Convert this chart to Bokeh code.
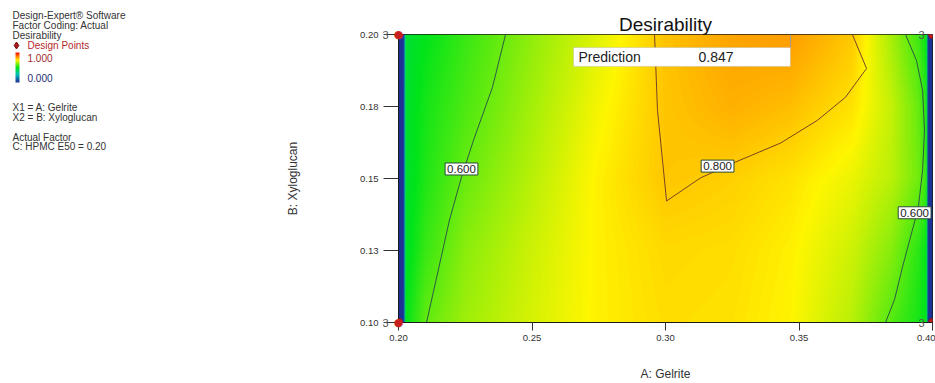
import numpy as np
from bokeh.plotting import figure
from bokeh.layouts import row
from bokeh.models import LinearColorMapper, Label, FixedTicker, BoxAnnotation
from bokeh.embed import file_html
from bokeh.resources import INLINE
from bokeh.core.properties import value

FONT = "Liberation Sans"

# ---- response surface: desirability over A: Gelrite (columns) x B: Xyloglucan (rows)
gelrite = [0.2000, 0.2018, 0.2025, 0.2100, 0.2250, 0.2500, 0.2750, 0.3000,
           0.3250, 0.3468, 0.3700, 0.3850, 0.3950, 0.3980, 0.3985, 0.4000]
xyloglucan = [0.100, 0.125, 0.150, 0.175, 0.200]
d_b0100 = [0, 0, 0.50, 0.595, 0.655, 0.71, 0.755, 0.775, 0.77, 0.75, 0.68, 0.58, 0.52, 0.49, 0, 0]
d_b0125 = [0, 0, 0.48, 0.555, 0.635, 0.70, 0.755, 0.78, 0.775, 0.755, 0.70, 0.63, 0.54, 0.50, 0, 0]
d_b0150 = [0, 0, 0.47, 0.53, 0.603, 0.68, 0.755, 0.801, 0.79, 0.77, 0.73, 0.68, 0.61, 0.55, 0, 0]
d_b0175 = [0, 0, 0.47, 0.52, 0.575, 0.66, 0.74, 0.802, 0.825, 0.81, 0.77, 0.69, 0.60, 0.53, 0, 0]
d_b0200 = [0, 0, 0.46, 0.50, 0.555, 0.64, 0.72, 0.805, 0.84, 0.847, 0.80, 0.66, 0.56, 0.50, 0, 0]

# ---- contour lines (A values, B values)
c600_left_a = [0.2401, 0.2352, 0.2281, 0.2236, 0.2191, 0.2105]
c600_left_b = [0.2000, 0.1817, 0.1633, 0.1505, 0.1356, 0.1000]
c800_a = [0.2959, 0.2970, 0.3004, 0.3131, 0.3262, 0.3431, 0.3569, 0.3674, 0.3753, 0.3700]
c800_b = [0.2000, 0.1737, 0.1422, 0.1502, 0.1557, 0.1623, 0.1702, 0.1782, 0.1882, 0.2000]
c600_right_a = [0.3899, 0.3940, 0.3963, 0.3970, 0.3963, 0.3948, 0.3933, 0.3888, 0.3858, 0.3824]
c600_right_b = [0.2000, 0.1910, 0.1806, 0.1668, 0.1529, 0.1408, 0.1350, 0.1194, 0.1080, 0.1000]
contour_labels_a = [0.2236, 0.3195, 0.3933]
contour_labels_b = [0.1533, 0.1543, 0.1381]
contour_labels_level = [0.600, 0.800, 0.600]

# ---- design points (corners, 3 replicates each)
design_a = [0.20, 0.20, 0.40, 0.40]
design_b = [0.10, 0.20, 0.10, 0.20]
design_reps = [3, 3, 3, 3]

# ---- flagged prediction
pred_a, pred_b, pred_value = 0.3468, 0.200, 0.847

x_ticks = [0.20, 0.25, 0.30, 0.35, 0.40]
x_tick_labels = ["0.20", "0.25", "0.30", "0.35", "0.40"]
y_ticks = [0.100, 0.125, 0.150, 0.175, 0.200]
y_tick_labels = ["0.10", "0.13", "0.15", "0.18", "0.20"]


def make_palette(n=256):
    stops = [(0.00, (30, 50, 150)), (0.25, (0, 190, 190)), (0.50, (0, 228, 25)),
             (0.75, (255, 245, 0)), (1.00, (255, 20, 0))]
    out = []
    for t in np.linspace(0, 1, n):
        for (t0, c0), (t1, c1) in zip(stops[:-1], stops[1:]):
            if t0 <= t <= t1:
                f = (t - t0) / (t1 - t0)
                c = [int(round(a + (b - a) * f)) for a, b in zip(c0, c1)]
                out.append("#%02x%02x%02x" % tuple(c))
                break
    return out


palette = make_palette()
mapper = LinearColorMapper(palette=palette, low=0.0, high=1.0)

# smooth raster of the surface for shading
grid = np.array([d_b0100, d_b0125, d_b0150, d_b0175, d_b0200])
fx = np.linspace(0.2, 0.4, 534)
fy = np.linspace(0.1, 0.2, 289)
rows_fx = np.array([np.interp(fx, gelrite, r) for r in grid])
field = np.array([np.interp(fy, xyloglucan, rows_fx[:, j]) for j in range(len(fx))]).T

SIDE_W = 180

# ---------------- main contour plot ----------------
p = figure(width=935 - SIDE_W, height=383, x_range=(0.2, 0.4), y_range=(0.1, 0.2),
           output_backend="svg", toolbar_location=None,
           min_border_left=398 - SIDE_W, min_border_right=3, min_border_top=34, min_border_bottom=60)
p.frame_align = False
p.background_fill_color = "white"
p.border_fill_color = "white"
p.grid.visible = False
p.outline_line_color = "#1a1a1a"
p.outline_line_width = 1

p.title.text = "Desirability"
p.title.align = "center"
p.title.text_font = FONT
p.title.text_font_size = "19px"
p.title.text_font_style = "normal"
p.title.text_color = "#111111"
p.title.standoff = 0

p.image(image=[field], x=0.2, y=0.1, dw=0.2, dh=0.1, color_mapper=mapper)

p.line(c600_left_a, c600_left_b, line_color="#2c5a44", line_width=1)
p.line(c600_right_a, c600_right_b, line_color="#2c5a44", line_width=1)
p.line(c800_a, c800_b, line_color="#7a4424", line_width=1)

for a, b, lev in zip(contour_labels_a, contour_labels_b, contour_labels_level):
    p.add_layout(Label(x=a, y=b, text=f"{lev:.3f}", text_align="center", text_baseline="middle",
                       text_font=FONT, text_font_size="11.5px", text_color="#222222",
                       background_fill_color="white", border_line_color="#2c4a3a",
                       border_line_width=1, padding=2))

# prediction flag
p.segment(x0=[pred_a], y0=[pred_b - 0.0045], x1=[pred_a], y1=[pred_b], line_color="#9a9a9a", line_width=1)
p.add_layout(BoxAnnotation(left=0.26554, right=pred_a, bottom=0.18893, top=0.1955,
                           fill_color="white", fill_alpha=1.0, line_color="#9a9a9a", line_width=1))
p.add_layout(Label(x=0.26742, y=0.1922, text="Prediction", text_baseline="middle",
                   text_font=FONT, text_font_size="14px", text_color="#222222"))
p.add_layout(Label(x=0.31236, y=0.1922, text=f"{pred_value:.3f}", text_baseline="middle",
                   text_font=FONT, text_font_size="14px", text_color="#222222"))

# design points
p.scatter(design_a, design_b, size=8, marker="circle", fill_color="#c8201e", line_color="#901010")

for ax in (p.xaxis[0], p.yaxis[0]):
    ax.axis_line_color = "#1a1a1a"
    ax.major_tick_line_color = "#333333"
    ax.minor_tick_line_color = None
    ax.major_tick_in = 0
    ax.major_label_text_font = FONT
    ax.major_label_text_font_size = "9.5px"
    ax.major_label_text_color = "#333333"
    ax.axis_label_text_font = FONT
    ax.axis_label_text_font_size = "12px"
    ax.axis_label_text_font_style = "normal"
    ax.axis_label_text_color = "#333333"

p.xaxis.ticker = FixedTicker(ticks=x_ticks)
p.xaxis.major_label_overrides = dict(zip(x_ticks, x_tick_labels))
p.xaxis.axis_label = "A: Gelrite"
p.xaxis.major_tick_out = 8
p.xaxis.major_label_standoff = 4
p.xaxis.axis_label_standoff = 23

p.yaxis.ticker = FixedTicker(ticks=y_ticks)
p.yaxis.major_label_overrides = dict(zip(y_ticks, y_tick_labels))
p.yaxis.axis_label = "B: Xyloglucan"
p.yaxis.major_tick_out = 15
p.yaxis.major_label_standoff = 5
p.yaxis.axis_label_standoff = 57

# replicate counts beside the design points; markers on the A = 0.20 edge are
# repeated in a side panel so they are drawn whole instead of cut at the frame
for a, b, n in zip(design_a, design_b, design_reps):
    if a < 0.3:
        p.add_layout(Label(x=a, y=b, text="\u25cf", text_align="center", text_baseline="middle",
                           text_font="DejaVu Sans", text_font_size="11px",
                           text_color="#c8201e"), "left")
    p.add_layout(Label(x=a, y=b, x_offset=-13 if a < 0.3 else -11, text=str(n),
                       text_align="center", text_baseline="middle",
                       text_font=FONT, text_font_size="11px", text_color="#555555"), "left")

# ---------------- side panel with software notes and legend ----------------
H = 383
side = figure(width=SIDE_W, height=H, x_range=(0, SIDE_W), y_range=(0, H),
              output_backend="svg", toolbar_location=None,
              x_axis_type=None, y_axis_type=None, min_border=0)
side.frame_align = False
side.grid.visible = False
side.outline_line_color = None
side.background_fill_color = "white"
side.border_fill_color = "white"

notes = ["Design-Expert\u00ae Software", "Factor Coding: Actual", "Desirability",
         "X1 = A: Gelrite", "X2 = B: Xyloglucan", "Actual Factor", "C: HPMC E50 = 0.20"]
notes_top = [15, 25, 35, 107, 117, 137, 146]
side.text(x=[12] * len(notes), y=[H - t for t in notes_top], text=notes,
          text_font=value(FONT), text_font_size="10px", text_baseline="middle",
          text_color="#333333")
side.scatter([16], [H - 45], marker="diamond", size=7, fill_color="#b01818", line_color="#701010")
side.text(x=[27], y=[H - 45], text=["Design Points"], text_font=value(FONT),
          text_font_size="10px", text_baseline="middle", text_color="#b42828")
bar = np.linspace(0, 1, 30).reshape(-1, 1)
side.image(image=[bar], x=15, y=H - 82, dw=4, dh=30, color_mapper=mapper)
side.text(x=[27, 27], y=[H - 57, H - 77], text=[f"{1.0:.3f}", f"{0.0:.3f}"],
          text_font=value(FONT), text_font_size="10px", text_baseline="middle",
          text_color=["#a02a2a", "#1c2c70"])

layout = row(side, p, spacing=0)
open("out.html", "w").write(file_html(layout, INLINE))
